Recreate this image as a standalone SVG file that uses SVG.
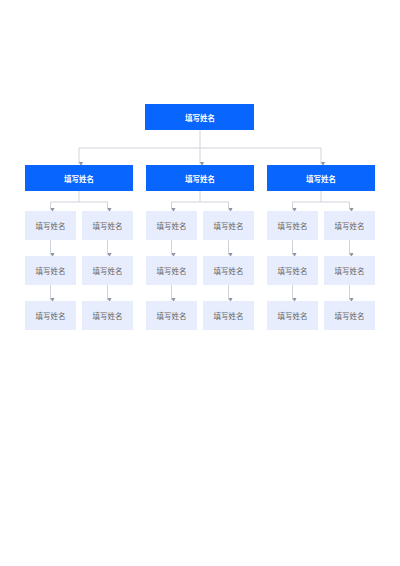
<svg xmlns="http://www.w3.org/2000/svg" width="400" height="566" viewBox="0 0 400 566">
<style>
.hd{fill:#0866FF}
.lf{fill:#E8EDFD}
.ht{fill:#fff;font-family:"Noto Sans CJK SC","Noto Sans",sans-serif;font-size:7.5px;font-weight:bold;text-anchor:middle;dominant-baseline:central}
.lt{fill:#666;font-family:"Noto Sans CJK SC","Noto Sans",sans-serif;font-size:7.5px;text-anchor:middle;dominant-baseline:central}
.c{fill:none;stroke:#cfd3da;stroke-width:1;marker-end:url(#a)}
.n{fill:none;stroke:#cfd3da;stroke-width:1}
</style>
<defs>
<marker id="a" viewBox="0 0 6 6" refX="3" refY="6" markerWidth="4" markerHeight="4" orient="auto-start-reverse" markerUnits="userSpaceOnUse">
<path d="M0,0 L6,0 L3,6 Z" fill="#8a94a6" transform="rotate(-90 3 3)"/>
</marker>
</defs>
<rect width="400" height="566" fill="#fff"/>
<g id="connectors">
<path class="n" d="M200,130 V148 M79,148 H321"/>
<path class="c" d="M79,148 V164"/>
<path class="c" d="M200,148 V164"/>
<path class="c" d="M321,148 V164"/>
<path class="n" d="M79,191 V202 M50.5,202 H107.5"/>
<path class="c" d="M50.5,202 V210"/>
<path class="c" d="M107.5,202 V210"/>
<path class="n" d="M200,191 V202 M171.5,202 H228.5"/>
<path class="c" d="M171.5,202 V210"/>
<path class="c" d="M228.5,202 V210"/>
<path class="n" d="M321,191 V202 M292.5,202 H349.5"/>
<path class="c" d="M292.5,202 V210"/>
<path class="c" d="M349.5,202 V210"/>
<path class="c" d="M50.5,240 V255"/>
<path class="c" d="M107.5,240 V255"/>
<path class="c" d="M171.5,240 V255"/>
<path class="c" d="M228.5,240 V255"/>
<path class="c" d="M292.5,240 V255"/>
<path class="c" d="M349.5,240 V255"/>
<path class="c" d="M50.5,285 V300"/>
<path class="c" d="M107.5,285 V300"/>
<path class="c" d="M171.5,285 V300"/>
<path class="c" d="M228.5,285 V300"/>
<path class="c" d="M292.5,285 V300"/>
<path class="c" d="M349.5,285 V300"/>
</g>
<g id="root"><rect class="hd" x="145" y="104" width="109" height="26"/><text class="ht" x="200" y="117">填写姓名</text></g>
<g id="m1"><rect class="hd" x="25" y="165" width="108" height="26"/><text class="ht" x="79" y="178">填写姓名</text></g>
<g id="m2"><rect class="hd" x="146" y="165" width="108" height="26"/><text class="ht" x="200" y="178">填写姓名</text></g>
<g id="m3"><rect class="hd" x="267" y="165" width="108" height="26"/><text class="ht" x="321" y="178">填写姓名</text></g>
<g id="l1a1"><rect class="lf" x="25" y="211" width="51" height="29"/><text class="lt" x="50.5" y="225.5">填写姓名</text></g>
<g id="l1b1"><rect class="lf" x="82" y="211" width="51" height="29"/><text class="lt" x="107.5" y="225.5">填写姓名</text></g>
<g id="l2a1"><rect class="lf" x="146" y="211" width="51" height="29"/><text class="lt" x="171.5" y="225.5">填写姓名</text></g>
<g id="l2b1"><rect class="lf" x="203" y="211" width="51" height="29"/><text class="lt" x="228.5" y="225.5">填写姓名</text></g>
<g id="l3a1"><rect class="lf" x="267" y="211" width="51" height="29"/><text class="lt" x="292.5" y="225.5">填写姓名</text></g>
<g id="l3b1"><rect class="lf" x="324" y="211" width="51" height="29"/><text class="lt" x="349.5" y="225.5">填写姓名</text></g>
<g id="l1a2"><rect class="lf" x="25" y="256" width="51" height="29"/><text class="lt" x="50.5" y="270.5">填写姓名</text></g>
<g id="l1b2"><rect class="lf" x="82" y="256" width="51" height="29"/><text class="lt" x="107.5" y="270.5">填写姓名</text></g>
<g id="l2a2"><rect class="lf" x="146" y="256" width="51" height="29"/><text class="lt" x="171.5" y="270.5">填写姓名</text></g>
<g id="l2b2"><rect class="lf" x="203" y="256" width="51" height="29"/><text class="lt" x="228.5" y="270.5">填写姓名</text></g>
<g id="l3a2"><rect class="lf" x="267" y="256" width="51" height="29"/><text class="lt" x="292.5" y="270.5">填写姓名</text></g>
<g id="l3b2"><rect class="lf" x="324" y="256" width="51" height="29"/><text class="lt" x="349.5" y="270.5">填写姓名</text></g>
<g id="l1a3"><rect class="lf" x="25" y="301" width="51" height="29"/><text class="lt" x="50.5" y="315.5">填写姓名</text></g>
<g id="l1b3"><rect class="lf" x="82" y="301" width="51" height="29"/><text class="lt" x="107.5" y="315.5">填写姓名</text></g>
<g id="l2a3"><rect class="lf" x="146" y="301" width="51" height="29"/><text class="lt" x="171.5" y="315.5">填写姓名</text></g>
<g id="l2b3"><rect class="lf" x="203" y="301" width="51" height="29"/><text class="lt" x="228.5" y="315.5">填写姓名</text></g>
<g id="l3a3"><rect class="lf" x="267" y="301" width="51" height="29"/><text class="lt" x="292.5" y="315.5">填写姓名</text></g>
<g id="l3b3"><rect class="lf" x="324" y="301" width="51" height="29"/><text class="lt" x="349.5" y="315.5">填写姓名</text></g>
</svg>
